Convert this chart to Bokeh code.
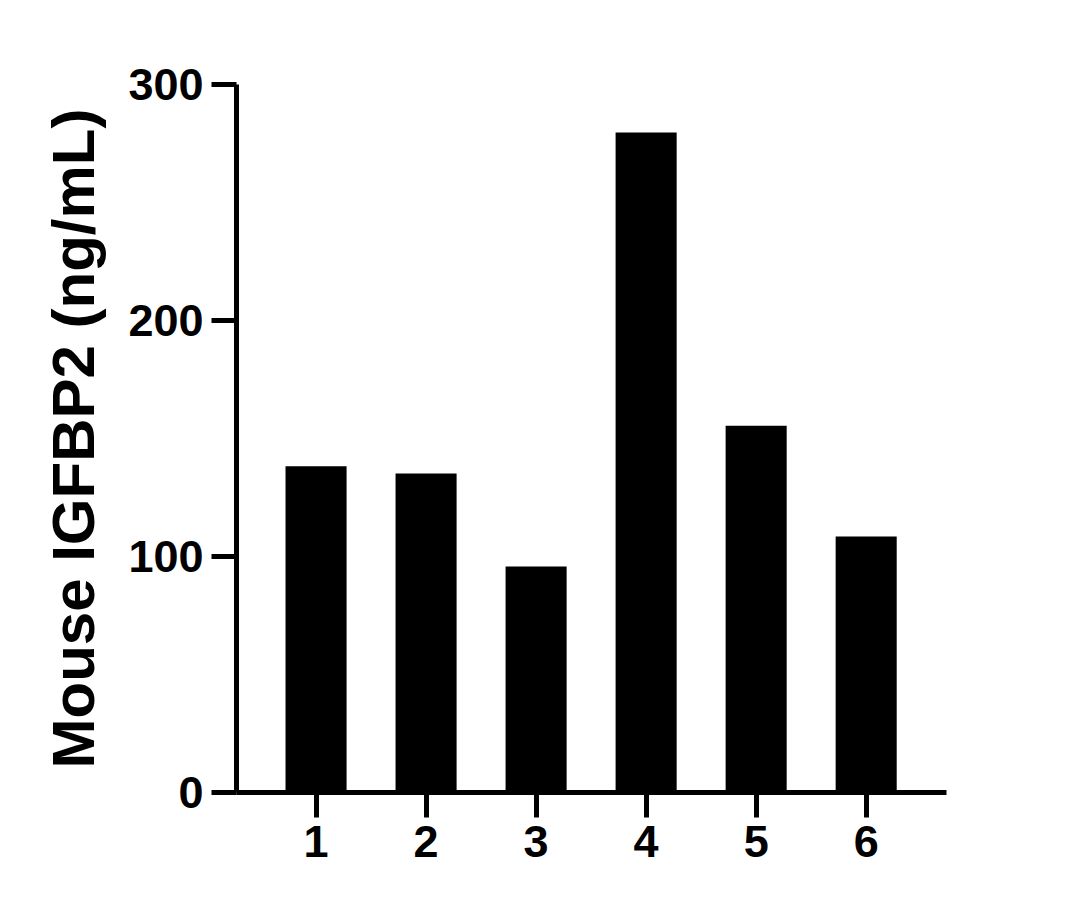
from bokeh.plotting import figure
from bokeh.models import Range1d, FixedTicker, ColumnDataSource
from bokeh.embed import file_html
from bokeh.resources import INLINE

samples = [1, 2, 3, 4, 5, 6]
tick_labels = ["1", "2", "3", "4", "5", "6"]
igfbp2 = [138.2, 135.2, 95.8, 279.7, 155.4, 108.5]
y_ticks = [0, 100, 200, 300]

src = ColumnDataSource(dict(x=samples, top=igfbp2))

p = figure(output_backend="svg", toolbar_location=None,
           frame_width=710, frame_height=708,
           width=1046, height=892,
           min_border_left=236, min_border_top=84,
           min_border_right=100, min_border_bottom=100,
           x_range=Range1d(0.277, 6.73), y_range=Range1d(0, 300))

p.vbar(x="x", top="top", bottom=0, width=0.555, source=src,
       fill_color="black", line_color="black", line_width=0)

p.grid.visible = False
p.outline_line_color = None
p.background_fill_color = "white"
p.border_fill_color = "white"

for ax in (p.xaxis[0], p.yaxis[0]):
    ax.axis_line_width = 5
    ax.axis_line_color = "black"
    ax.major_tick_line_width = 5
    ax.major_tick_line_color = "black"
    ax.major_tick_out = 25
    ax.major_tick_in = 0
    ax.minor_tick_line_color = None
    ax.major_label_text_font = "Liberation Sans"
    ax.major_label_text_font_style = "bold"
    ax.major_label_text_font_size = "45px"
    ax.major_label_text_color = "black"

p.xaxis.ticker = FixedTicker(ticks=samples)
p.xaxis.major_label_overrides = {s: l for s, l in zip(samples, tick_labels)}
p.xaxis.major_label_standoff = 8

p.yaxis.ticker = FixedTicker(ticks=y_ticks)
p.yaxis.major_label_standoff = 8
p.yaxis.axis_label = "Mouse IGFBP2 (ng/mL)"
p.yaxis.axis_label_text_font = "Liberation Sans"
p.yaxis.axis_label_text_font_style = "bold"
p.yaxis.axis_label_text_font_size = "60px"
p.yaxis.axis_label_text_color = "black"
p.yaxis.axis_label_standoff = 18

open("out.html", "w").write(file_html(p, INLINE))
